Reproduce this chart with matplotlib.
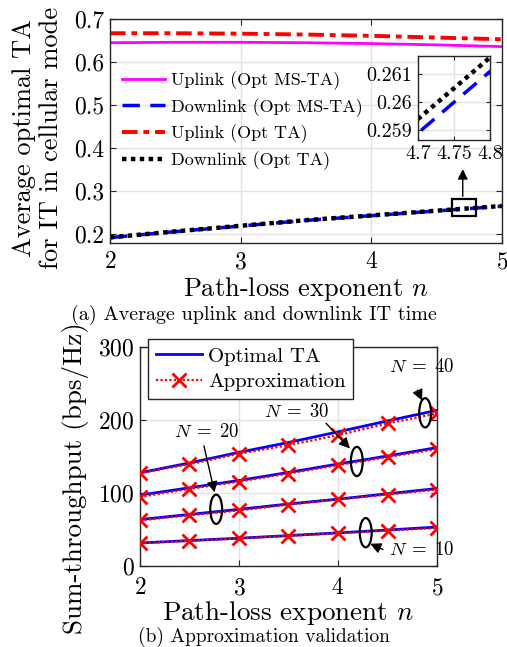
import matplotlib.pyplot as plt
from matplotlib.patches import Ellipse, Rectangle

plt.rcParams["font.family"] = "cmr10"
plt.rcParams["mathtext.fontset"] = "cm"
plt.rcParams["axes.formatter.use_mathtext"] = True

# ---- (a) average IT time ----
n_vals = [2, 2.5, 3, 3.5, 4, 4.5, 5]
uplink_ms_ta = [0.645, 0.646, 0.646, 0.645, 0.643, 0.640, 0.636]
downlink_ms_ta = [0.1925, 0.2065, 0.2195, 0.2325, 0.2435, 0.2545, 0.2655]
uplink_ta = [0.667, 0.667, 0.666, 0.664, 0.661, 0.657, 0.653]
downlink_ta = [0.193, 0.207, 0.220, 0.233, 0.244, 0.255, 0.266]

# ---- (b) approximation validation ----
n_b = [2, 2.5, 3, 3.5, 4, 4.5, 5]
opt_n10 = [31.5, 34.8, 38.0, 41.6, 45.3, 49.2, 53.3]
opt_n20 = [63.5, 70.5, 77.5, 84.8, 91.5, 98.8, 106.0]
opt_n30 = [97.0, 107.0, 117.0, 128.0, 139.5, 150.5, 162.0]
opt_n40 = [127.5, 141.0, 155.5, 169.0, 183.5, 198.5, 213.0]
apx_n10 = [31.0, 34.5, 37.8, 41.3, 44.8, 48.5, 52.0]
apx_n20 = [62.5, 69.4, 76.0, 84.0, 91.0, 97.7, 104.6]
apx_n30 = [94.5, 105.5, 115.5, 126.5, 138.0, 149.0, 160.0]
apx_n40 = [127.0, 139.3, 153.5, 165.3, 179.0, 195.0, 208.7]
n_labels = [r"$N\;=\;10$", r"$N\;=\;20$", r"$N\;=\;30$", r"$N\;=\;40$"]

AX_COLOR = "#262626"
GRID_COLOR = "#e3e3e3"


def style_axes(ax, tick_size, pad=4):
    ax.tick_params(direction="in", top=True, right=True, labelsize=tick_size,
                   colors=AX_COLOR, labelcolor="black", length=4, pad=pad)
    for spine in ax.spines.values():
        spine.set_color(AX_COLOR)
        spine.set_linewidth(1.0)
    ax.grid(True, color=GRID_COLOR, linewidth=1.0)
    ax.set_axisbelow(True)


def draw_top(fig):
    ax = fig.add_axes([0.217, 0.6244, 0.773, 0.3462])
    ax.plot(n_vals, uplink_ms_ta, color="#ff00ff", linewidth=2.0,
            label="Uplink (Opt MS-TA)")
    ax.plot(n_vals, downlink_ms_ta, color="#0000ff", linewidth=2.5,
            linestyle=(0, (5, 3)), label="Downlink (Opt MS-TA)")
    ax.plot(n_vals, uplink_ta, color="#ff0000", linewidth=2.8,
            linestyle=(0, (4, 1.5, 1.5, 1.5)), label="Uplink (Opt TA)")
    ax.plot(n_vals, downlink_ta, color="black", linewidth=3.2,
            linestyle=(0, (1, 1)), label="Downlink (Opt TA)")

    ax.set_xlim(2, 5)
    ax.set_ylim(0.18, 0.7)
    ax.set_xticks([2, 3, 4, 5])
    ax.set_yticks([0.2, 0.3, 0.4, 0.5, 0.6, 0.7])
    ax.set_yticklabels(["0.2", "0.3", "0.4", "0.5", "0.6", "0.7"])
    style_axes(ax, 17)
    ax.tick_params(axis="x", pad=6)
    ax.set_xlabel("Path-loss exponent $n$", fontsize=19, labelpad=1)
    ax.set_ylabel("Average optimal TA\nfor IT in cellular mode", fontsize=19,
                  linespacing=1.15)
    ax.yaxis.set_label_coords(-0.12, 0.47)

    ax.legend(loc="upper left", bbox_to_anchor=(0.012, 0.80), frameon=False,
              fontsize=13, handlelength=2.4, handletextpad=0.3,
              borderaxespad=0, labelspacing=0.45)

    # zoom box and arrow
    ax.add_patch(Rectangle((4.62, 0.242), 0.18, 0.04, fill=False,
                           edgecolor="black", linewidth=1.6, zorder=5))
    ax.annotate("", xy=(4.70, 0.358), xytext=(4.70, 0.282),
                arrowprops=dict(arrowstyle="-|>", color="black", lw=1.0,
                                mutation_scale=15))

    ins = fig.add_axes([0.8245, 0.7836, 0.142, 0.1298])
    ins.plot(n_vals, downlink_ms_ta, color="#0000ff", linewidth=2.5,
             linestyle=(0, (5, 3)))
    ins.plot(n_vals, downlink_ta, color="black", linewidth=3.2,
             linestyle=(0, (1, 1)))
    ins.set_xlim(4.7, 4.8)
    ins.set_ylim(0.25865, 0.26165)
    ins.set_xticks([4.7, 4.75, 4.8])
    ins.set_xticklabels(["4.7", "4.75", "4.8"])
    ins.set_yticks([0.259, 0.26, 0.261])
    ins.set_yticklabels(["0.259", "0.26", "0.261"])
    style_axes(ins, 14.5)
    ins.tick_params(length=3)
    ins.set_facecolor("white")

    fig.text(0.5, 0.5135, "(a) Average uplink and downlink IT time",
             ha="center", va="center", fontsize=14.5)


def draw_bottom(fig):
    ax = fig.add_axes([0.276, 0.1252, 0.586, 0.3389])
    opt_sets = [opt_n10, opt_n20, opt_n30, opt_n40]
    apx_sets = [apx_n10, apx_n20, apx_n30, apx_n40]
    for i in range(4):
        ax.plot(n_b, opt_sets[i], color="#0000ff", linewidth=2.0,
                label="Optimal TA" if i == 0 else None, zorder=3)
        ax.plot(n_b, apx_sets[i], color="#ff0000", linewidth=1.6,
                linestyle=(0, (1, 1)), marker="x", markersize=10,
                markeredgewidth=2.0,
                label="Approximation" if i == 0 else None, zorder=4)

    ax.set_xlim(2, 5)
    ax.set_ylim(0, 300)
    ax.set_xticks([2, 3, 4, 5])
    ax.set_yticks([0, 100, 200, 300])
    style_axes(ax, 17)
    ax.tick_params(axis="x", pad=8)
    ax.set_xlabel("Path-loss exponent $n$", fontsize=19.5, labelpad=0)
    ax.set_ylabel("Sum-throughput (bps/Hz)", fontsize=19.5)
    ax.yaxis.set_label_coords(-0.17, 0.40)

    leg = ax.legend(loc="upper left", bbox_to_anchor=(0.027, 1.035),
                    fontsize=15, handlelength=2.2, handletextpad=0.3,
                    borderaxespad=0, labelspacing=0.35, fancybox=False,
                    framealpha=1, borderpad=0.38)
    leg.get_frame().set_edgecolor(AX_COLOR)
    leg.get_frame().set_linewidth(1.0)
    leg.set_zorder(10)

    # ellipses, arrows, labels
    ell = [(4.28, 45.6), (2.77, 77.6), (4.19, 143.0), (4.88, 209.6)]
    text_pos = [(4.85, 21.5), (2.67, 184.0), (3.58, 211.0), (4.85, 272.0)]
    arrow_tail = [(4.48, 21.0), (2.64, 168.0), (3.86, 198.0), (4.79, 244.0)]
    arrow_head = [(4.3, 32.0), (2.76, 97.0), (4.14, 158.0), (4.86, 223.0)]
    for i in range(4):
        ax.add_patch(Ellipse(ell[i], width=0.12, height=40, fill=False,
                             edgecolor="black", linewidth=1.6, zorder=6))
        ax.annotate("", xy=arrow_head[i], xytext=arrow_tail[i],
                    arrowprops=dict(arrowstyle="-|>", color="black", lw=1.0,
                                    mutation_scale=16), zorder=7)
        ax.text(text_pos[i][0], text_pos[i][1], n_labels[i], fontsize=13.5,
                ha="center", va="center", zorder=7)

    fig.text(0.52, 0.0155, "(b) Approximation validation",
             ha="center", va="center", fontsize=14)


def main():
    fig = plt.figure(figsize=(5.07, 6.47), dpi=100)
    draw_top(fig)
    draw_bottom(fig)
    fig.savefig("out.png", dpi=100)
    plt.close(fig)


if __name__ == "__main__":
    main()
